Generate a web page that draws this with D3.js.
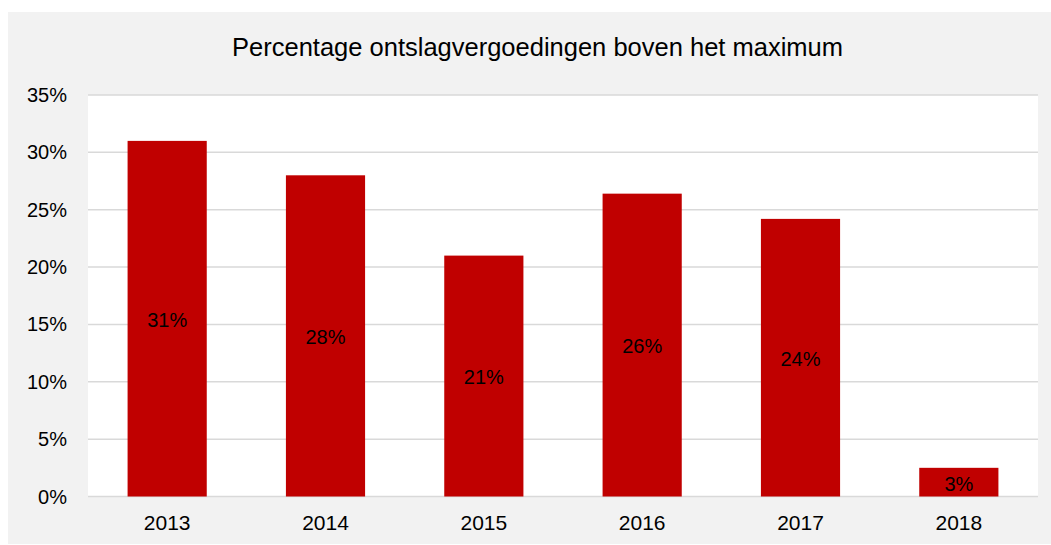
<!DOCTYPE html>
<html>
<head>
<meta charset="utf-8">
<script src="https://cdn.jsdelivr.net/npm/d3@7"></script>
<style>
  body { margin: 0; background: #fff; }
  text { font-family: "Liberation Sans", Arial, sans-serif; fill: #000; }
</style>
</head>
<body>
<svg id="svg" width="1051" height="545"></svg>
<script>
const years = ["2013", "2014", "2015", "2016", "2017", "2018"];
const values = [31.0, 28.0, 21.0, 26.4, 24.2, 2.5];
const yTicks = [0, 5, 10, 15, 20, 25, 30, 35];
const title = "Percentage ontslagvergoedingen boven het maximum";

const svg = d3.select("#svg");
const plot = {left: 88, right: 1038, top: 95, bottom: 496.5};

// grey chart area, white plot area
svg.append("rect")
    .attr("x", 8).attr("y", 12)
    .attr("width", 1043).attr("height", 532)
    .attr("fill", "#f2f2f2");
svg.append("rect")
    .attr("x", plot.left).attr("y", plot.top)
    .attr("width", plot.right - plot.left).attr("height", plot.bottom - plot.top)
    .attr("fill", "#fff");

const x = d3.scaleBand()
    .domain(years)
    .range([plot.left, plot.right])
    .paddingInner(0.5)
    .paddingOuter(0.25);

const y = d3.scaleLinear()
    .domain([0, 35])
    .range([plot.bottom, plot.top]);

// gridlines
svg.append("g")
    .selectAll("line")
    .data(yTicks)
    .enter()
    .append("line")
    .attr("x1", plot.left).attr("x2", plot.right)
    .attr("y1", d => y(d)).attr("y2", d => y(d))
    .attr("stroke", "#d9d9d9")
    .attr("stroke-width", 1.5);

// y tick labels
svg.append("g")
    .selectAll("text")
    .data(yTicks)
    .enter()
    .append("text")
    .attr("x", 67)
    .attr("y", d => y(d))
    .attr("dy", "0.35em")
    .attr("text-anchor", "end")
    .attr("font-size", 20)
    .text(d => d + "%");

// bars
svg.append("g")
    .selectAll("rect")
    .data(values)
    .enter()
    .append("rect")
    .attr("x", (d, i) => x(years[i]))
    .attr("y", d => y(d))
    .attr("width", x.bandwidth())
    .attr("height", d => plot.bottom - y(d))
    .attr("fill", "#c00000");

// value labels, centred in bar
svg.append("g")
    .selectAll("text")
    .data(values)
    .enter()
    .append("text")
    .attr("x", (d, i) => x(years[i]) + x.bandwidth() / 2)
    .attr("y", d => (y(d) + plot.bottom) / 2)
    .attr("dy", "0.42em")
    .attr("text-anchor", "middle")
    .attr("font-size", 20)
    .text(d => Math.round(d) + "%");

// x labels
svg.append("g")
    .selectAll("text")
    .data(years)
    .enter()
    .append("text")
    .attr("x", d => x(d) + x.bandwidth() / 2)
    .attr("y", 523)
    .attr("dy", "0.35em")
    .attr("text-anchor", "middle")
    .attr("font-size", 21)
    .text(d => d);

svg.append("text")
    .attr("x", 537.5)
    .attr("y", 47)
    .attr("dy", "0.35em")
    .attr("text-anchor", "middle")
    .attr("font-size", 25.5)
    .text(title);
</script>
</body>
</html>
